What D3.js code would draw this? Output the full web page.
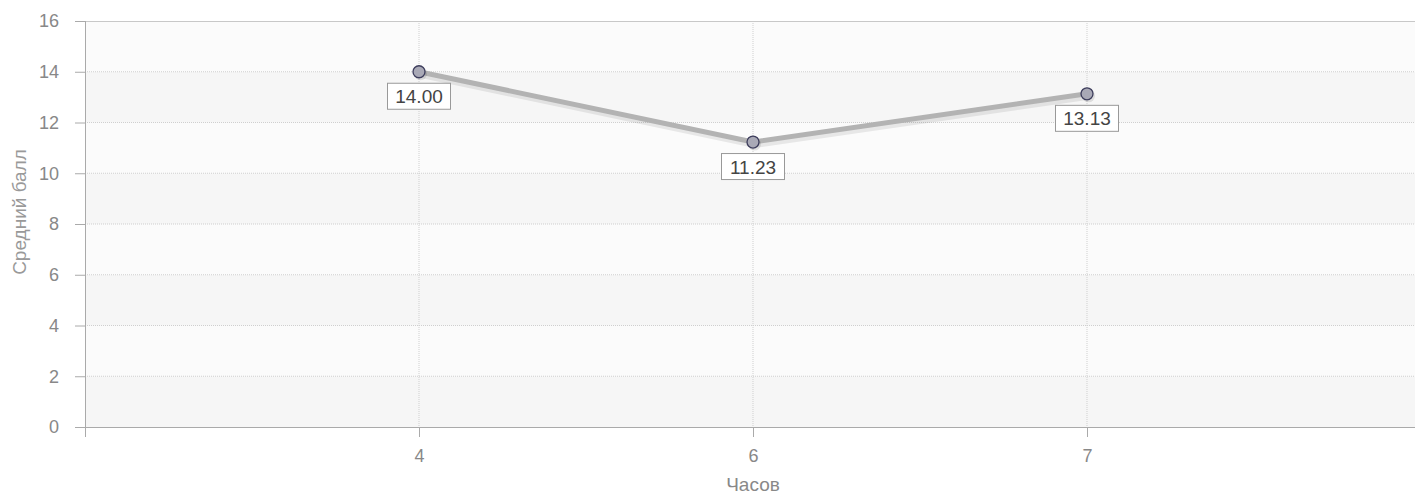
<!DOCTYPE html>
<html>
<head>
<meta charset="utf-8">
<script src="https://cdn.jsdelivr.net/npm/d3@7"></script>
<style>
  body { margin: 0; background: #fff; }
  svg { display: block; font-family: "Liberation Sans", Arial, sans-serif; }
</style>
</head>
<body>
<svg id="drawing_region"></svg>
<script>
const categories = ["4", "6", "7"];
const values = [14.00, 11.23, 13.13];
const yTicks = [0, 2, 4, 6, 8, 10, 12, 14, 16];
const xTitle = "Часов";
const yTitle = "Средний балл";

const config = {
    width: 1415,
    height: 495,
    margin: {top: 21, right: -6, bottom: 68, left: 85}
};

const svg = d3.select("#drawing_region")
    .attr("width", config.width)
    .attr("height", config.height);

const inner_width = config.width - config.margin.left - config.margin.right;
const inner_height = config.height - config.margin.top - config.margin.bottom;

const chart = svg.append("g")
    .attr("transform", `translate(${config.margin.left}, ${config.margin.top})`);

// categories sit at index 1..n on a 0..n+1 scale
const x = d3.scaleLinear()
    .domain([0, categories.length + 1])
    .range([0, inner_width]);

const y = d3.scaleLinear()
    .domain([0, 16])
    .range([inner_height, 0]);

// background bands
const bands = d3.range(yTicks.length - 1);
chart.selectAll(".band")
    .data(bands)
    .enter()
    .append("rect")
    .attr("x", 0)
    .attr("width", inner_width)
    .attr("y", i => y(yTicks[i + 1]))
    .attr("height", i => y(yTicks[i]) - y(yTicks[i + 1]))
    .attr("fill", i => i % 2 === 0 ? "#f6f6f6" : "#fbfbfb");

// grid
chart.selectAll(".hgrid")
    .data(yTicks.slice(1, -1))
    .enter()
    .append("line")
    .attr("x1", 0).attr("x2", inner_width)
    .attr("y1", d => y(d)).attr("y2", d => y(d))
    .attr("stroke", "#cfcfcf")
    .attr("stroke-dasharray", "1,1");

chart.selectAll(".vgrid")
    .data(categories)
    .enter()
    .append("line")
    .attr("x1", (d, i) => x(i + 1)).attr("x2", (d, i) => x(i + 1))
    .attr("y1", 0).attr("y2", inner_height)
    .attr("stroke", "#cfcfcf")
    .attr("stroke-dasharray", "1,1");

// top border
chart.append("line")
    .attr("x1", 0).attr("x2", inner_width)
    .attr("y1", 0.5).attr("y2", 0.5)
    .attr("stroke", "#c8c8c8");

// y axis
const yAxis = chart.append("g")
    .call(d3.axisLeft(y).tickValues(yTicks).tickSize(10).tickPadding(16));
yAxis.select(".domain").attr("stroke", "#aaa").attr("d", `M0.5,0V${inner_height}`);
yAxis.selectAll(".tick line").attr("stroke", "#aaa");
yAxis.selectAll("text")
    .attr("fill", "#888")
    .style("font-size", "18px");

// x axis
const xAxis = chart.append("g")
    .attr("transform", `translate(0, ${inner_height})`)
    .call(d3.axisBottom(x)
        .tickValues(d3.range(0, categories.length + 1))
        .tickFormat(i => i === 0 ? "" : categories[i - 1])
        .tickSize(10).tickPadding(12));
xAxis.select(".domain").attr("stroke", "#aaa").attr("d", `M0,0.5H${inner_width}`);
xAxis.selectAll(".tick line").attr("stroke", "#aaa");
xAxis.selectAll("text")
    .attr("fill", "#888")
    .style("font-size", "18px");

// titles
svg.append("text")
    .attr("x", config.margin.left + x(2))
    .attr("y", 491)
    .attr("text-anchor", "middle")
    .attr("fill", "#888")
    .style("font-size", "19px")
    .text(xTitle);

svg.append("text")
    .attr("transform", `translate(26, 212) rotate(-90)`)
    .attr("text-anchor", "middle")
    .attr("fill", "#999")
    .style("font-size", "19px")
    .text(yTitle);

// line with shadow
const line = d3.line()
    .x((d, i) => x(i + 1))
    .y(d => y(d));

chart.append("path")
    .datum(values)
    .attr("d", line)
    .attr("fill", "none")
    .attr("stroke", "#000")
    .attr("stroke-opacity", 0.08)
    .attr("stroke-width", 7)
    .attr("transform", "translate(1.5, 2.5)");

chart.append("path")
    .datum(values)
    .attr("d", line)
    .attr("fill", "none")
    .attr("stroke", "#b3b3b3")
    .attr("stroke-width", 5)
    .attr("stroke-linejoin", "round");

// points
chart.selectAll(".pt-shadow")
    .data(values)
    .enter()
    .append("circle")
    .attr("cx", (d, i) => x(i + 1) + 1.5)
    .attr("cy", d => y(d) + 2)
    .attr("r", 6.5)
    .attr("fill", "#000")
    .attr("fill-opacity", 0.1);

chart.selectAll(".pt")
    .data(values)
    .enter()
    .append("circle")
    .attr("cx", (d, i) => x(i + 1))
    .attr("cy", d => y(d))
    .attr("r", 6)
    .attr("fill", "#a9a9b6")
    .attr("stroke", "#3d3d5c")
    .attr("stroke-width", 1.3);

// value labels
const labels = chart.selectAll(".lbl")
    .data(values)
    .enter()
    .append("g")
    .attr("transform", (d, i) => `translate(${x(i + 1)}, ${y(d) + 12})`);

labels.append("rect")
    .attr("x", -31.5)
    .attr("y", -0.5)
    .attr("width", 63)
    .attr("height", 26)
    .attr("fill", "#fff")
    .attr("stroke", "#999");

labels.append("text")
    .attr("y", 19.5)
    .attr("text-anchor", "middle")
    .attr("fill", "#444")
    .style("font-size", "19px")
    .text(d => d.toFixed(2));
</script>
</body>
</html>
